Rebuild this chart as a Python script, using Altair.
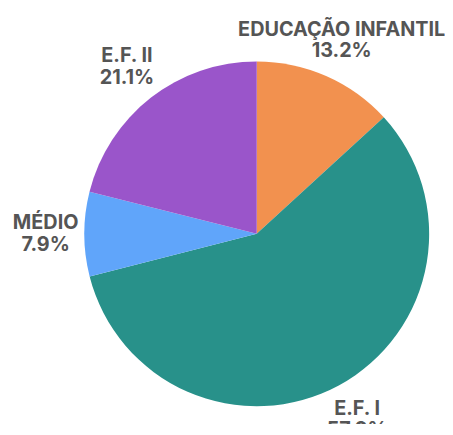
import altair as alt
import pandas as pd

categories = ["EDUCAÇÃO INFANTIL", "E.F. I", "MÉDIO", "E.F. II"]
values = [13.2, 57.9, 7.9, 21.1]
colors = ["#F2914F", "#28918A", "#60A5FA", "#9A55CA"]

df = pd.DataFrame({
    "cat": categories,
    "val": values,
    "order": list(range(len(categories))),
})
df["label"] = [f"{c}\n{v:.1f}%" for c, v in zip(categories, values)]

base = alt.Chart(df).encode(
    theta=alt.Theta("val:Q", stack=True),
    order=alt.Order("order:Q"),
)

pie = base.mark_arc(outerRadius=174).encode(
    color=alt.Color("cat:N", scale=alt.Scale(domain=categories, range=colors), legend=None)
)

labels = base.mark_text(
    radius=213, font="Inter", fontWeight="bold", fontSize=20, dy=-11,
    color="#555555", lineBreak="\n", lineHeight=22, baseline="middle", align="center"
).encode(text="label:N")

chart = (pie + labels).properties(
    width=380, height=380,
    autosize=alt.AutoSizeParams(type="none"),
    padding={"left": 61, "top": 36, "right": 0, "bottom": 0},
).configure_view(stroke=None)

chart.save("out.html", embed_options={"renderer": "svg", "actions": False})
